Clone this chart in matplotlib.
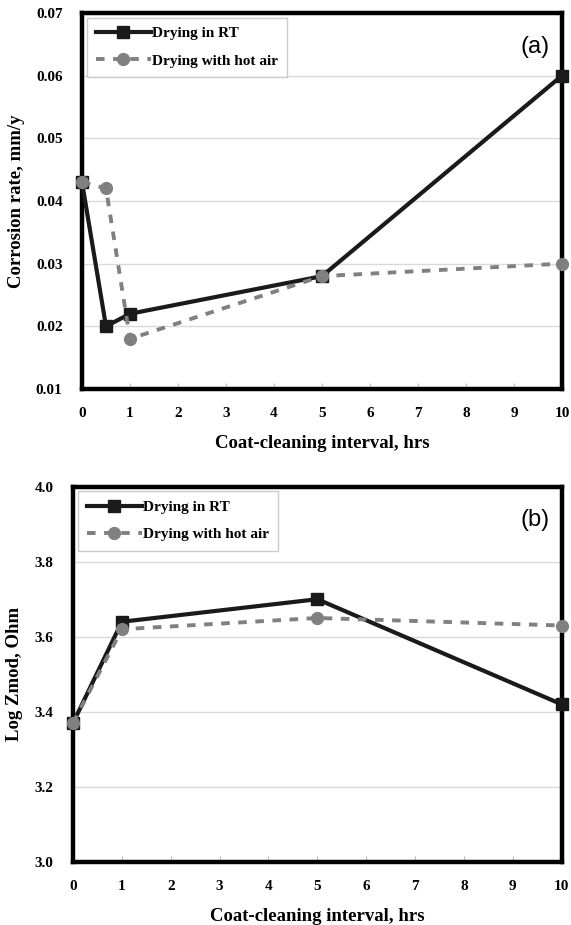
import numpy as np
import matplotlib
matplotlib.use('Agg')
import matplotlib.pyplot as plt

# datos
x_a = [0, 0.5, 1, 5, 10]
rt_a = [0.043, 0.020, 0.022, 0.028, 0.060]
hot_a = [0.043, 0.042, 0.018, 0.028, 0.030]

x_b = [0, 1, 5, 10]
rt_b = [3.37, 3.64, 3.70, 3.42]
hot_b = [3.37, 3.62, 3.65, 3.63]

xticks = list(range(0, 11))
yticks_a = [0.01, 0.02, 0.03, 0.04, 0.05, 0.06, 0.07]
yticks_b = [3.0, 3.2, 3.4, 3.6, 3.8, 4.0]

serif = 'Liberation Serif'

fig = plt.figure(figsize=(5.71, 9.25), dpi=100)
ax1 = fig.add_axes([0.1436, 0.5795, 0.8406, 0.4065])
ax2 = fig.add_axes([0.1278, 0.068, 0.856, 0.406])


def panel(ax, x, rt, hot, yticks, ylim, ylabel, tag, ytfmt):
    ax.plot(x, rt, color='#1a1a1a', linestyle='-', linewidth=3,
            marker='s', markersize=8, label='Drying in RT', zorder=4,
            clip_on=False)
    ax.plot(x, hot, color='#808080', linestyle=(0, (2.2, 2.2)), linewidth=2.8,
            marker='o', markersize=8.5, label='Drying with hot air', zorder=5,
            clip_on=False)
    ax.set_xlim(0, 10)
    ax.set_ylim(*ylim)
    ax.set_xticks(xticks)
    ax.set_yticks(yticks)
    ax.set_yticklabels([ytfmt.format(v) for v in yticks], fontfamily=serif,
                       fontweight='bold', fontsize=11)
    ax.set_xticklabels([str(v) for v in xticks], fontfamily=serif,
                       fontweight='bold', fontsize=11)
    ax.tick_params(axis='x', direction='in', length=4, color='#bbbbbb', pad=13)
    ax.tick_params(axis='y', length=0, pad=14)
    ax.grid(axis='y', color='#d9d9d9', linewidth=1)
    ax.set_axisbelow(True)
    for s in ax.spines.values():
        s.set_linewidth(3.2)
        s.set_color('black')
        s.set_zorder(3)
    ax.set_xlabel('Coat-cleaning interval, hrs', fontfamily=serif,
                  fontweight='bold', fontsize=13.5, labelpad=11)
    ax.set_ylabel(ylabel, fontfamily=serif, fontweight='bold', fontsize=13.5,
                  labelpad=8)
    leg = ax.legend(loc='upper left', frameon=True, fancybox=False,
                    borderpad=0.6, labelspacing=0.9, borderaxespad=0.3,
                    handlelength=3.6, handletextpad=0.1,
                    prop={'family': serif, 'weight': 'bold', 'size': 11})
    leg.get_frame().set_edgecolor('#bfbfbf')
    leg.get_frame().set_linewidth(1)
    leg.set_zorder(6)
    ax.text(0.975, 0.91, tag, transform=ax.transAxes, ha='right', va='center',
            fontfamily='Liberation Sans', fontsize=17)


panel(ax1, x_a, rt_a, hot_a, yticks_a, (0.01, 0.07), 'Corrosion rate, mm/y',
      '(a)', '{:.2f}')
panel(ax2, x_b, rt_b, hot_b, yticks_b, (3.0, 4.0), 'Log Zmod, Ohm',
      '(b)', '{:.1f}')

fig.savefig('out.png', dpi=100)
